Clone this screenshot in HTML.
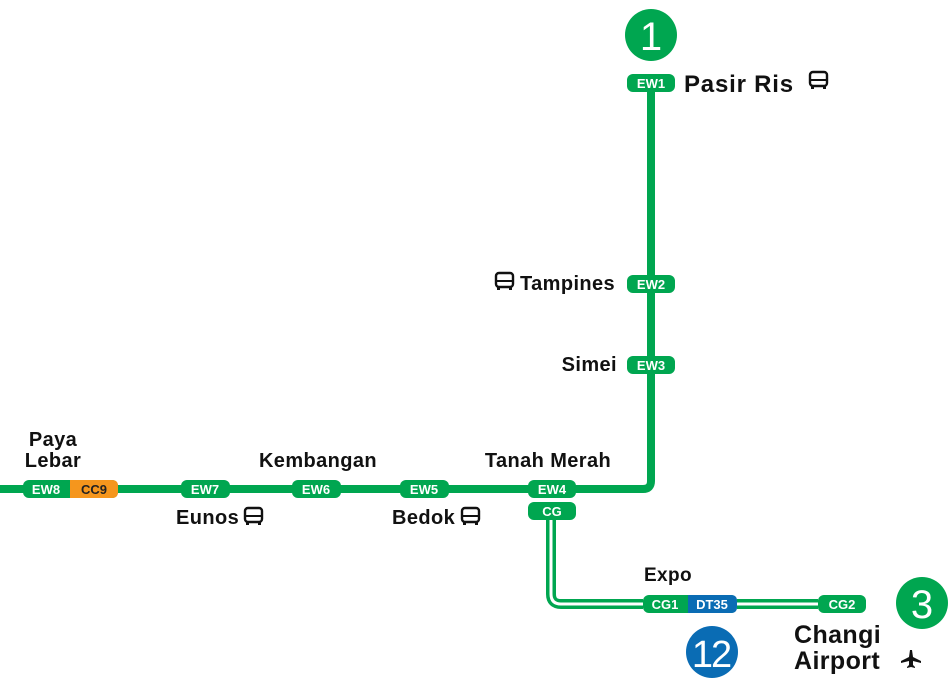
<!DOCTYPE html>
<html><head><style>html,body{margin:0;padding:0;background:#fff}</style></head><body>
<svg width="952" height="690" xmlns="http://www.w3.org/2000/svg" font-family="Liberation Sans, sans-serif" font-weight="bold">
<defs>
<g id="bus"><rect x="0" y="0" width="17" height="14" rx="3" fill="none" stroke="#111" stroke-width="2.4"/><line x1="0" y1="8" x2="17" y2="8" stroke="#111" stroke-width="2"/><rect x="1" y="13" width="3" height="4" fill="#111"/><rect x="13" y="13" width="3" height="4" fill="#111"/></g>
</defs>
<path d="M0 489 H643 Q651 489 651 481 V82" fill="none" stroke="#00a650" stroke-width="8"/>
<path d="M551 520 V594 Q551 604 561 604 H643 M737 604 H818" fill="none" stroke="#00a650" stroke-width="10"/>
<path d="M551 520 V594 Q551 604 561 604 H643 M737 604 H818" fill="none" stroke="#fff" stroke-width="3"/>
<g font-size="13" fill="#fff" text-anchor="middle">
<rect x="23" y="480" width="95" height="18" rx="6" fill="#00a650"/><path d="M70 480 H112 Q118 480 118 486 V492 Q118 498 112 498 H70 Z" fill="#f5961d"/>
<text x="46" y="494">EW8</text><text x="94" y="494" fill="#222">CC9</text>
<rect x="181" y="480" width="49" height="18" rx="6" fill="#00a650"/><text x="205" y="494">EW7</text>
<rect x="292" y="480" width="49" height="18" rx="6" fill="#00a650"/><text x="316" y="494">EW6</text>
<rect x="400" y="480" width="49" height="18" rx="6" fill="#00a650"/><text x="424" y="494">EW5</text>
<rect x="528" y="480" width="48" height="18" rx="6" fill="#00a650"/><text x="552" y="494">EW4</text>
<rect x="528" y="502" width="48" height="18" rx="6" fill="#00a650"/><text x="552" y="516">CG</text>
<rect x="627" y="74" width="48" height="18" rx="6" fill="#00a650"/><text x="651" y="88">EW1</text>
<rect x="627" y="275" width="48" height="18" rx="6" fill="#00a650"/><text x="651" y="289">EW2</text>
<rect x="627" y="356" width="48" height="18" rx="6" fill="#00a650"/><text x="651" y="370">EW3</text>
<rect x="643" y="595" width="94" height="18" rx="6" fill="#00a650"/><path d="M688 595 H731 Q737 595 737 601 V607 Q737 613 731 613 H688 Z" fill="#0a6cb4"/>
<text x="665" y="609">CG1</text><text x="712" y="609">DT35</text>
<rect x="818" y="595" width="48" height="18" rx="6" fill="#00a650"/><text x="842" y="609">CG2</text>
</g>
<circle cx="651" cy="35" r="26" fill="#00a650"/><text x="651" y="50" font-size="40" font-weight="normal" fill="#fff" text-anchor="middle">1</text>
<circle cx="922" cy="603" r="26" fill="#00a650"/><text x="922" y="618" font-size="40" font-weight="normal" fill="#fff" text-anchor="middle">3</text>
<circle cx="712" cy="652" r="26" fill="#0a6cb4"/><text x="711" y="667" font-size="38" font-weight="normal" fill="#fff" text-anchor="middle" letter-spacing="-2">12</text>
<g fill="#111" letter-spacing="0.4">
<text x="684" y="92" font-size="24" letter-spacing="0.8">Pasir Ris</text><use href="#bus" x="810" y="72"/>
<use href="#bus" x="496" y="273"/><text x="520" y="290" font-size="20">Tampines</text>
<text x="617" y="371" font-size="20" text-anchor="end">Simei</text>
<text x="548" y="467" font-size="20" text-anchor="middle">Tanah Merah</text>
<text x="318" y="467" font-size="20" text-anchor="middle">Kembangan</text>
<text x="53" y="446" font-size="20" text-anchor="middle">Paya</text>
<text x="53" y="467" font-size="20" text-anchor="middle">Lebar</text>
<text x="176" y="524" font-size="20">Eunos</text><use href="#bus" x="245" y="508"/>
<text x="392" y="524" font-size="20">Bedok</text><use href="#bus" x="462" y="508"/>
<text x="668" y="581" font-size="19" text-anchor="middle">Expo</text>
<text x="794" y="643" font-size="25">Changi</text>
<text x="794" y="669" font-size="25">Airport</text>
<path d="M910 650 L912 650 L913 657 L921 661 L921 663 L913 661 L913 665 L915 667 L915 668 L911 667 L907 668 L907 667 L909 665 L909 661 L901 663 L901 661 L909 657 Z" fill="#111"/>
</g>
</svg>
</body></html>
